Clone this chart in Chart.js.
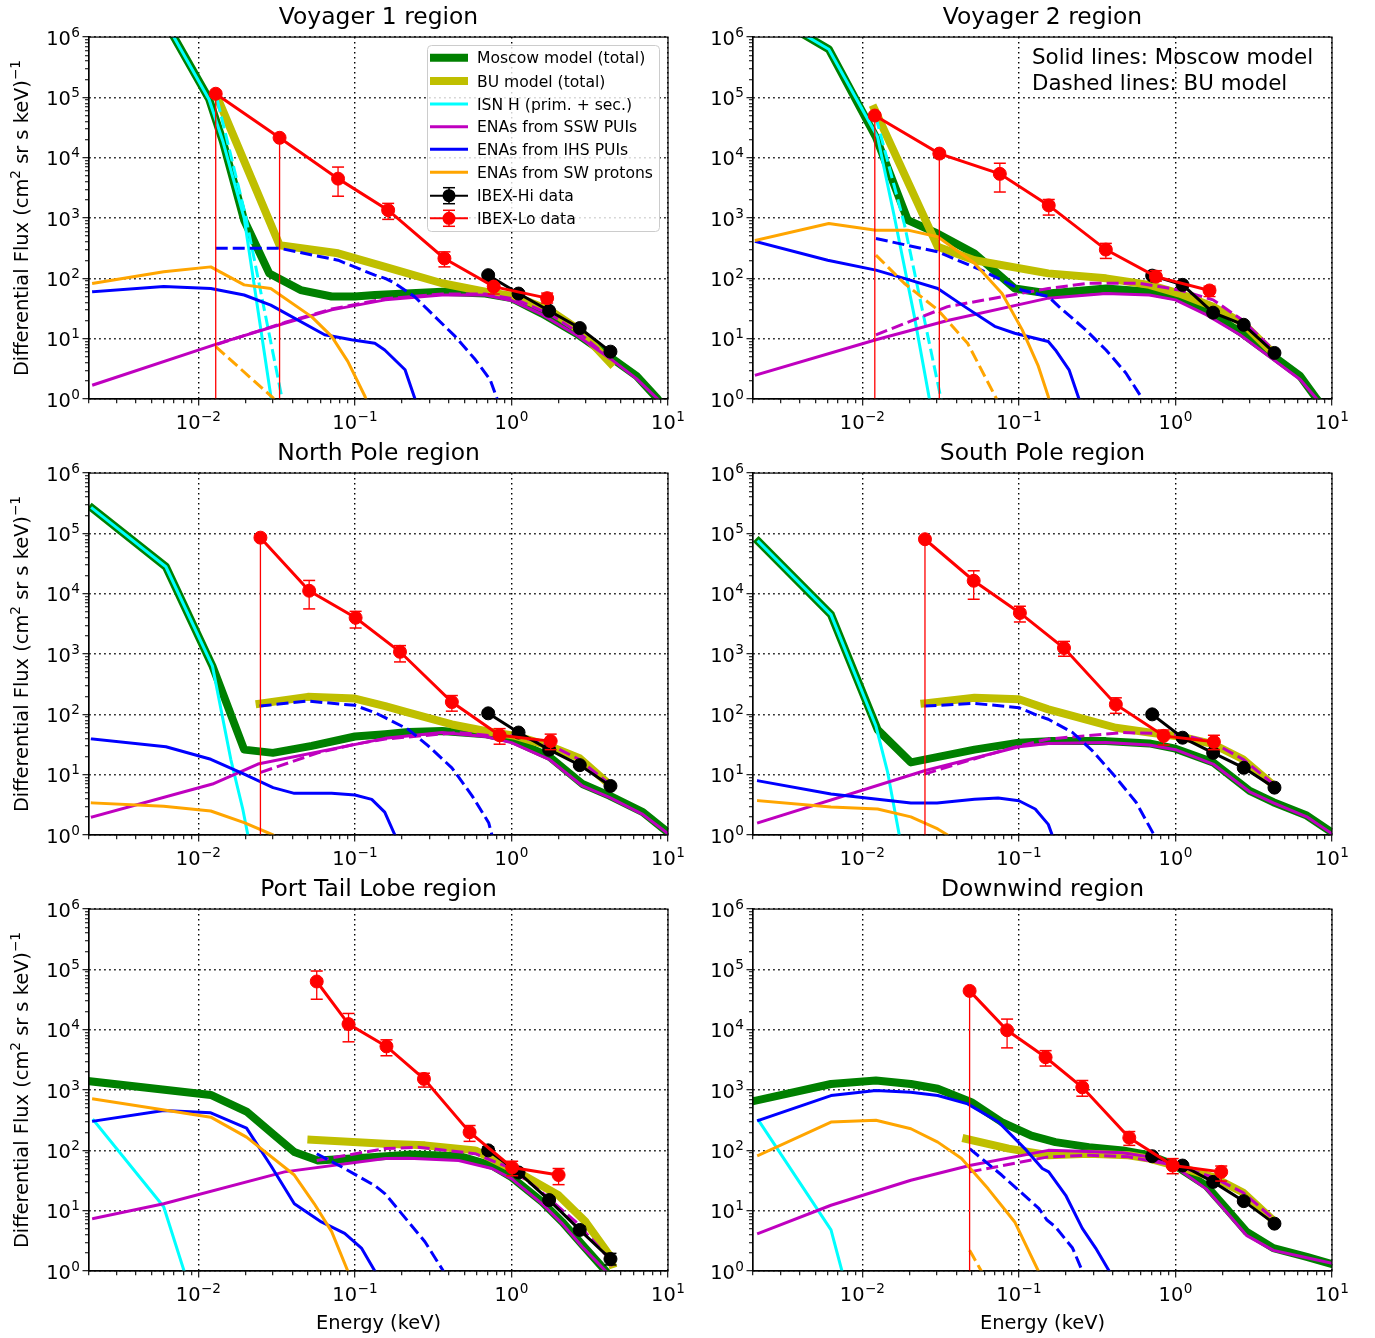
<!DOCTYPE html>
<html>
<head>
<meta charset="utf-8">
<title>ENA spectra: Moscow and BU models vs IBEX data</title>
<script src="https://cdn.jsdelivr.net/npm/chart.js@4.4.1/dist/chart.umd.min.js"></script>
<style>
  body { margin: 0; background: #fff; }
  #page { position: relative; width: 1375px; height: 1338px; overflow: hidden; font-family: "DejaVu Sans", sans-serif; }
  #page canvas { position: absolute; }
  #legend { position: absolute; left: 427px; top: 45px; }
  #note { position: absolute; left: 1032px; top: 44px; font-size: 21.4px; line-height: 26px; color: #000; white-space: nowrap; }
</style>
</head>
<body>
<div id="page">
  <canvas id="p1" width="700" height="436" style="left:0px;top:0px"></canvas>
  <canvas id="p2" width="699" height="436" style="left:676px;top:0px"></canvas>
  <canvas id="p3" width="700" height="436" style="left:0px;top:436px"></canvas>
  <canvas id="p4" width="699" height="436" style="left:676px;top:436px"></canvas>
  <canvas id="p5" width="700" height="466" style="left:0px;top:872px"></canvas>
  <canvas id="p6" width="699" height="466" style="left:676px;top:872px"></canvas>

  <svg id="legend" width="234" height="189" xmlns="http://www.w3.org/2000/svg" font-family="DejaVu Sans, sans-serif" font-size="15.6">
    <rect x="0.5" y="0.5" width="232" height="186" rx="4" ry="4" fill="#fff" fill-opacity="0.8" stroke="#cccccc" stroke-width="1"/>
    <line x1="3" y1="12.7" x2="41" y2="12.7" stroke="#008000" stroke-width="8"/>
    <text x="50" y="18.3">Moscow model (total)</text>
    <line x1="3" y1="36" x2="41" y2="36" stroke="#BFBF00" stroke-width="8"/>
    <text x="50" y="41.6">BU model (total)</text>
    <line x1="3" y1="59" x2="41" y2="59" stroke="#00FFFF" stroke-width="3"/>
    <text x="50" y="64.6">ISN H (prim. + sec.)</text>
    <line x1="3" y1="81.7" x2="41" y2="81.7" stroke="#BF00BF" stroke-width="3"/>
    <text x="50" y="87.3">ENAs from SSW PUIs</text>
    <line x1="3" y1="104.3" x2="41" y2="104.3" stroke="#0000FF" stroke-width="3"/>
    <text x="50" y="109.9">ENAs from IHS PUIs</text>
    <line x1="3" y1="127.3" x2="41" y2="127.3" stroke="#FFA500" stroke-width="3"/>
    <text x="50" y="132.9">ENAs from SW protons</text>
    <line x1="3" y1="150.7" x2="41" y2="150.7" stroke="#000" stroke-width="2"/>
    <line x1="22" y1="142.7" x2="22" y2="158.7" stroke="#000" stroke-width="1.5"/>
    <line x1="16" y1="142.7" x2="28" y2="142.7" stroke="#000" stroke-width="1.5"/>
    <line x1="16" y1="158.7" x2="28" y2="158.7" stroke="#000" stroke-width="1.5"/>
    <circle cx="22" cy="150.7" r="6.5" fill="#000"/>
    <text x="50" y="156.3">IBEX-Hi data</text>
    <line x1="3" y1="173.3" x2="41" y2="173.3" stroke="#FF0000" stroke-width="2"/>
    <line x1="22" y1="165.3" x2="22" y2="181.3" stroke="#FF0000" stroke-width="1.5"/>
    <line x1="16" y1="165.3" x2="28" y2="165.3" stroke="#FF0000" stroke-width="1.5"/>
    <line x1="16" y1="181.3" x2="28" y2="181.3" stroke="#FF0000" stroke-width="1.5"/>
    <circle cx="22" cy="173.3" r="6.5" fill="#FF0000"/>
    <text x="50" y="178.9">IBEX-Lo data</text>
  </svg>
  <div id="note">Solid lines: Moscow model<br>Dashed lines: BU model</div>
</div>

<script>
// ---------- axes ----------
const xRange = [0.002, 10];
const yRange = [1, 1e6];
const xMajor = [0.01, 0.1, 1, 10];
const xTickExp = ['\u22122', '\u22121', '0', '1'];      // labels 10^-2 ... 10^1
const yMajor = [1, 10, 100, 1e3, 1e4, 1e5, 1e6];
const yTickExp = ['0', '1', '2', '3', '4', '5', '6'];    // labels 10^0 ... 10^6
const yTitleParts = [['Differential Flux (cm', false], ['2', true], [' sr s keV)', false], ['\u22121', true]];
const xTitle = 'Energy (keV)';

// IBEX-Hi energy steps (keV), same in every panel
const hiE = [0.71, 1.11, 1.74, 2.73, 4.29];

// ---------- Voyager 1 region ----------
const v1Moscow = [[0.002,5e6],[0.006,2e6],[0.0117,9.4e4],[0.0143,1.9e4],[0.0196,920],[0.0284,120],[0.045,64],[0.071,50],[0.1,50],[0.134,53],[0.36,60],[0.68,56],[1,47],[1.57,26],[2.58,12.3],[4.2,5.1],[6.3,2.4],[8.6,1],[12,0.3]];
const v1BU = [[0.0132,1.0e5],[0.033,355],[0.078,260],[0.156,155],[0.36,83],[0.68,60],[1.06,50],[1.74,30],[2.7,14],[4.3,3.9]];
const v1IsnM = [[0.002,5e6],[0.006,2e6],[0.0117,9.2e4],[0.0143,1.9e4],[0.0196,1000],[0.0292,1],[0.032,0.3]];
const v1IsnB = [[0.0132,9e4],[0.02,1100],[0.0338,1.2],[0.036,0.4]];
const v1SswM = [[0.00214,1.72],[0.0126,7.9],[0.0355,18],[0.071,30],[0.156,44],[0.36,53],[0.68,53],[1,43],[1.57,25],[2.58,11.6],[4.22,4.8],[6.26,2.2],[8.6,1],[12,0.35]];
const v1SswB = [[0.0132,8.1],[0.0355,18.5],[0.071,31],[0.156,46],[0.36,55],[0.68,55],[1.06,45],[1.74,26],[2.7,12.5],[4.3,4.6]];
const v1IhsM = [[0.00214,60],[0.006,73],[0.012,68],[0.0196,53],[0.029,36],[0.064,11.6],[0.095,9.6],[0.134,8.4],[0.155,6.5],[0.209,3.05],[0.242,1],[0.26,0.5]];
const v1IhsB = [[0.0129,315],[0.033,315],[0.078,200],[0.134,113],[0.156,100],[0.18,83],[0.24,50],[0.325,23],[0.437,10.9],[0.587,4.5],[0.73,2.1],[0.81,1],[0.85,0.6]];
const v1SwM = [[0.00214,83],[0.006,129],[0.012,155],[0.0196,78],[0.029,68],[0.053,23],[0.071,10.9],[0.09,4.2],[0.116,1.1],[0.125,0.6]];
const v1SwB = [[0.0129,7.4],[0.03,1.04],[0.032,0.8]];
const v1LoE = [0.0129, 0.033, 0.078, 0.163, 0.373, 0.77, 1.69];
const v1Lo = [1.15e5, 2.14e4, 4500, 1350, 214, 73, 47];
const v1LoUp = [1.25e5, 2.3e4, 7000, 1750, 275, 80, 57];
const v1LoDn = [0.001, 0.001, 2300, 950, 155, 55, 39];
const v1Hi = [113, 56, 29, 15, 6.1];
const v1HiUp = [122, 60, 31, 16, 6.5];
const v1HiDn = [104, 52, 27, 14, 5.7];

// ---------- Voyager 2 region ----------
const v2Moscow = [[0.002,3.4e6],[0.0061,6.3e5],[0.0122,2.2e4],[0.0195,920],[0.0303,550],[0.052,258],[0.094,68],[0.154,56],[0.36,68],[0.68,60],[1,50],[1.57,30],[2.58,13],[4.22,5.1],[6.26,2.4],[8,1],[10,0.5]];
const v2BU = [[0.0119,6.5e4],[0.0303,333],[0.052,200],[0.154,121],[0.36,100],[0.68,78],[1.06,56],[1.74,34],[2.7,18],[4.32,5.4]];
const v2IsnM = [[0.002,3.4e6],[0.0061,6.3e5],[0.0125,2.2e4],[0.016,1050],[0.0215,23],[0.0268,1],[0.029,0.4]];
const v2IsnB = [[0.0122,4.7e4],[0.0185,810],[0.0318,1],[0.034,0.4]];
const v2SswM = [[0.0021,2.5],[0.0122,9.6],[0.035,20],[0.154,47],[0.36,56],[0.68,53],[1,44],[1.57,25],[2.58,11.6],[4.22,4.5],[6.26,2.1],[8,1],[10,0.5]];
const v2SswB = [[0.0122,11.6],[0.035,34],[0.154,68],[0.28,83],[0.587,83],[1.06,64],[1.74,44],[2.7,20],[4.22,6.5]];
const v2IhsM = [[0.0021,405],[0.006,200],[0.0122,137],[0.0185,100],[0.0303,68],[0.045,34],[0.07,16],[0.094,12.3],[0.154,9],[0.171,6.5],[0.209,3.05],[0.242,1],[0.26,0.5]];
const v2IhsB = [[0.0122,457],[0.0303,275],[0.0575,137],[0.104,64],[0.154,50],[0.18,34],[0.267,14],[0.36,6.5],[0.482,2.7],[0.616,1],[0.66,0.6]];
const v2SwM = [[0.0021,430],[0.0061,810],[0.0122,630],[0.0195,630],[0.0303,490],[0.052,178],[0.078,56],[0.105,14],[0.133,3.5],[0.154,1.1],[0.16,0.7]];
const v2SwB = [[0.0122,243],[0.0185,83],[0.0303,30],[0.047,8.4],[0.072,1],[0.076,0.7]];
const v2LoE = [0.012, 0.031, 0.0755, 0.155, 0.359, 0.75, 1.65];
const v2Lo = [5e4, 1.17e4, 5400, 1620, 300, 107, 63];
const v2LoUp = [5.5e4, 1.3e4, 8100, 2030, 380, 134, 74];
const v2LoDn = [0.001, 0.001, 2700, 1120, 214, 90, 50];
const v2Hi = [111, 78, 27, 17, 5.8];
const v2HiUp = [120, 84, 29, 18, 6.2];
const v2HiDn = [102, 72, 25, 16, 5.4];

// ---------- North Pole region ----------
const npMoscow = [[0.0021,2.6e5],[0.0062,2.8e4],[0.0123,630],[0.0196,26],[0.0299,23],[0.053,30],[0.1,43],[0.156,47],[0.22,51],[0.36,53],[0.68,47],[1,38],[1.74,20],[2.84,7],[4.22,4.5],[6.9,2.4],[10,1.1]];
const npBU = [[0.0246,150],[0.05,195],[0.1,183],[0.156,137],[0.22,107],[0.416,68],[0.68,53],[1.06,44],[1.74,30],[2.7,19],[4.32,6.5]];
const npIsnM = [[0.0021,2.6e5],[0.0062,2.8e4],[0.0123,630],[0.0161,18],[0.0192,2.7],[0.0207,1],[0.022,0.5]];
const npIsnB = [];
const npSswM = [[0.0021,2.0],[0.0123,7],[0.024,15],[0.156,40],[0.36,50],[0.68,43],[1,34],[1.74,18],[2.84,6.5],[4.22,4.2],[6.9,2.2],[10,1.05]];
const npSswB = [[0.025,10.9],[0.058,23],[0.1,32],[0.156,39],[0.46,50],[0.75,44],[1.06,44],[1.74,32],[2.7,18],[4.22,7]];
const npIhsM = [[0.0021,39],[0.0062,29],[0.012,18],[0.0196,10.2],[0.03,6.1],[0.041,4.9],[0.071,4.9],[0.1,4.6],[0.128,3.9],[0.155,2.4],[0.18,1],[0.19,0.6]];
const npIhsB = [[0.0246,137],[0.05,166],[0.1,141],[0.134,107],[0.156,88],[0.22,56],[0.294,30],[0.416,13],[0.559,4.5],[0.715,1.6],[0.75,1],[0.78,0.6]];
const npSwM = [[0.0021,3.4],[0.006,3.0],[0.012,2.5],[0.0196,1.6],[0.03,1],[0.033,0.8]];
const npSwB = [];
const npLoE = [0.0249, 0.051, 0.101, 0.194, 0.416, 0.84, 1.78];
const npLo = [8.5e4, 1.12e4, 4000, 1090, 160, 45, 36];
const npLoUp = [9.3e4, 1.66e4, 5100, 1380, 205, 58, 47];
const npLoDn = [0.001, 5600, 2700, 740, 113, 32, 26];
const npHi = [104, 50, 26, 14.4, 6.5];
const npHiUp = [116, 54, 28, 15.5, 7];
const npHiDn = [94, 46, 24, 13.3, 6];

// ---------- South Pole region ----------
const spMoscow = [[0.00217,7.3e4],[0.0063,4500],[0.0125,56],[0.0204,16],[0.052,26],[0.1,34],[0.154,36],[0.36,36],[0.68,33],[1,27],[1.74,16],[2.98,5.4],[4.22,3.5],[6.9,2.1],[10,1.1]];
const spBU = [[0.0249,152],[0.052,188],[0.1,178],[0.154,121],[0.22,94],[0.416,60],[0.68,50],[1.06,43],[1.74,32],[2.7,18],[4.22,6.7]];
const spIsnM = [[0.00217,7.3e4],[0.0063,4500],[0.0122,64],[0.0145,10.9],[0.0172,1],[0.018,0.6]];
const spIsnB = [];
const spSswM = [[0.00217,1.6],[0.0249,11.6],[0.1,29],[0.154,33],[0.36,34],[0.68,31],[1,26],[1.74,15],[2.98,5.2],[4.22,3.4],[6.9,2.0],[10,1.05]];
const spSswB = [[0.0249,10.2],[0.058,20],[0.1,30],[0.154,39],[0.46,50],[1.06,47],[1.74,34],[2.7,18],[4.22,7]];
const spIhsM = [[0.00217,7.9],[0.0063,4.8],[0.0125,3.9],[0.0204,3.4],[0.03,3.4],[0.052,3.9],[0.0736,4.1],[0.1,3.7],[0.127,2.7],[0.154,1.5],[0.163,1],[0.17,0.7]];
const spIhsB = [[0.0249,137],[0.052,152],[0.1,129],[0.134,94],[0.154,83],[0.22,50],[0.294,25],[0.416,9],[0.56,3.5],[0.73,1],[0.76,0.6]];
const spSwM = [[0.00217,3.7],[0.0063,2.9],[0.0125,2.7],[0.0204,2.0],[0.0303,1.26],[0.035,1],[0.037,0.8]];
const spSwB = [];
const spLoE = [0.0251, 0.0514, 0.1014, 0.194, 0.416, 0.84, 1.76];
const spLo = [8e4, 1.64e4, 4800, 1260, 146, 44, 35];
const spLoUp = [8.8e4, 2.4e4, 6200, 1620, 188, 55, 45];
const spLoDn = [0.001, 8100, 3400, 920, 104, 31, 26];
const spHi = [100, 41, 23, 13, 6.1];
const spHiUp = [110, 44, 25, 14, 6.5];
const spHiDn = [91, 38, 21, 12, 5.7];

// ---------- Port Tail Lobe region ----------
const ptMoscow = [[0.00203,1400],[0.012,830],[0.0203,440],[0.0306,178],[0.041,94],[0.058,68],[0.095,73],[0.134,78],[0.22,85],[0.46,81],[0.75,56],[1,36],[1.57,14],[2.11,6.5],[2.84,2.7],[4.0,1],[5,0.5]];
const ptBU = [[0.0527,150],[0.156,129],[0.28,121],[0.587,100],[1,50],[2.0,18],[2.98,6.5],[4.22,1.84],[4.4,1.3]];
const ptIsnM = [[0.00214,315],[0.006,11.6],[0.0081,1],[0.0088,0.5]];
const ptIsnB = [];
const ptSswM = [[0.00214,7.4],[0.006,13],[0.0355,44],[0.156,73],[0.22,74],[0.46,68],[0.75,50],[1,34],[1.57,13],[2.11,6.1],[2.84,2.5],[4.0,1],[5,0.5]];
const ptSswB = [[0.057,68],[0.156,107],[0.254,113],[0.587,88],[1,50],[1.57,20],[2.58,6.5],[4.22,1.6],[4.4,1.2]];
const ptIhsM = [[0.00214,305],[0.006,457],[0.012,420],[0.0203,234],[0.029,56],[0.041,13],[0.061,6.5],[0.086,4.2],[0.11,2.4],[0.134,1],[0.14,0.7]];
const ptIhsB = [[0.057,88],[0.086,50],[0.134,26],[0.156,19],[0.22,6.5],[0.28,3.05],[0.367,1],[0.4,0.6]];
const ptSwM = [[0.00214,710],[0.012,355],[0.0203,166],[0.041,39],[0.055,13],[0.071,4.5],[0.09,1],[0.095,0.7]];
const ptSwB = [];
const ptLoE = [0.057, 0.091, 0.159, 0.276, 0.54, 1.01, 2.0];
const ptLo = [6.3e4, 1.24e4, 5300, 1530, 200, 52, 39];
const ptLoUp = [9.4e4, 1.86e4, 6800, 1900, 258, 66, 50];
const ptLoDn = [3.2e4, 6300, 3700, 1120, 141, 38, 27];
const ptHi = [100, 43, 15, 4.8, 1.58];
const ptHiUp = [115, 47, 17, 5.5, 1.96];
const ptHiDn = [88, 39, 13.5, 4.2, 1.26];

// ---------- Downwind region ----------
const dwMoscow = [[0.00209,670],[0.0063,1260],[0.0122,1440],[0.0204,1260],[0.0303,1050],[0.0497,630],[0.0775,295],[0.12,175],[0.171,137],[0.28,113],[0.46,100],[0.68,83],[1,56],[1.57,26],[2.11,10.9],[2.84,4.5],[4.22,2.4],[6.9,1.72],[10,1.3]];
const dwBU = [[0.0461,155],[0.086,107],[0.154,83],[0.28,88],[0.5,83],[0.68,73],[1.06,53],[1.74,36],[2.7,20],[4.32,6.5]];
const dwIsnM = [[0.00217,315],[0.0063,4.8],[0.0074,1],[0.0078,0.6]];
const dwIsnB = [];
const dwSswM = [[0.00217,4.2],[0.0063,12.3],[0.0204,32],[0.0484,56],[0.154,100],[0.28,96],[0.46,91],[0.68,78],[1,53],[1.57,23],[2.11,9.6],[2.84,3.9],[4.22,2.2],[6.9,1.66],[10,1.34]];
const dwSswB = [[0.0484,44],[0.154,78],[0.28,83],[0.5,78],[1,56],[1.74,36],[2.7,20],[4.32,7]];
const dwIhsM = [[0.00217,315],[0.0063,810],[0.0122,980],[0.0204,920],[0.0303,810],[0.047,590],[0.074,295],[0.109,107],[0.141,50],[0.155,44],[0.199,18],[0.254,5.1],[0.309,2.4],[0.377,1],[0.4,0.6]];
const dwIhsB = [[0.0484,107],[0.0775,39],[0.134,10.9],[0.151,7],[0.171,5.4],[0.22,2.4],[0.254,1],[0.27,0.6]];
const dwSwM = [[0.00217,83],[0.0063,295],[0.0122,315],[0.0204,228],[0.0303,137],[0.043,73],[0.0636,23],[0.094,6.5],[0.133,1],[0.14,0.7]];
const dwSwB = [[0.0484,2.2],[0.0575,1],[0.06,0.8]];
const dwLoE = [0.0484, 0.084, 0.148, 0.254, 0.507, 0.96, 1.96];
const dwLo = [4.4e4, 9800, 3500, 1110, 162, 56, 44];
const dwLoUp = [4.8e4, 1.5e4, 4500, 1440, 205, 73, 55];
const dwLoDn = [0.001, 5000, 2500, 790, 121, 41, 31];
const dwHi = [80, 56, 30, 14.4, 6.1];
const dwHiUp = [88, 60, 32, 15.5, 6.5];
const dwHiDn = [73, 52, 28, 13.3, 5.7];

// ---------- styles ----------
const FONT = '"DejaVu Sans", sans-serif';
const BASE_PX = 19.4, SUP_PX = 13.6, SUP_RAISE = 8;
const GREEN = '#008000', OLIVE = '#BFBF00', CYAN = '#00FFFF', MAGENTA = '#BF00BF',
      BLUE = '#0000FF', ORANGE = '#FFA500', RED = '#FF0000', BLACK = '#000000';

const panels = [
  { id: 'p1', title: 'Voyager 1 region', col: 0, row: 0,
    m: v1Moscow, b: v1BU, isnM: v1IsnM, isnB: v1IsnB, sswM: v1SswM, sswB: v1SswB, ihsM: v1IhsM, ihsB: v1IhsB, swM: v1SwM, swB: v1SwB,
    loE: v1LoE, lo: v1Lo, loUp: v1LoUp, loDn: v1LoDn, hi: v1Hi, hiUp: v1HiUp, hiDn: v1HiDn },
  { id: 'p2', title: 'Voyager 2 region', col: 1, row: 0,
    m: v2Moscow, b: v2BU, isnM: v2IsnM, isnB: v2IsnB, sswM: v2SswM, sswB: v2SswB, ihsM: v2IhsM, ihsB: v2IhsB, swM: v2SwM, swB: v2SwB,
    loE: v2LoE, lo: v2Lo, loUp: v2LoUp, loDn: v2LoDn, hi: v2Hi, hiUp: v2HiUp, hiDn: v2HiDn },
  { id: 'p3', title: 'North Pole region', col: 0, row: 1,
    m: npMoscow, b: npBU, isnM: npIsnM, isnB: npIsnB, sswM: npSswM, sswB: npSswB, ihsM: npIhsM, ihsB: npIhsB, swM: npSwM, swB: npSwB,
    loE: npLoE, lo: npLo, loUp: npLoUp, loDn: npLoDn, hi: npHi, hiUp: npHiUp, hiDn: npHiDn },
  { id: 'p4', title: 'South Pole region', col: 1, row: 1,
    m: spMoscow, b: spBU, isnM: spIsnM, isnB: spIsnB, sswM: spSswM, sswB: spSswB, ihsM: spIhsM, ihsB: spIhsB, swM: spSwM, swB: spSwB,
    loE: spLoE, lo: spLo, loUp: spLoUp, loDn: spLoDn, hi: spHi, hiUp: spHiUp, hiDn: spHiDn },
  { id: 'p5', title: 'Port Tail Lobe region', col: 0, row: 2,
    m: ptMoscow, b: ptBU, isnM: ptIsnM, isnB: ptIsnB, sswM: ptSswM, sswB: ptSswB, ihsM: ptIhsM, ihsB: ptIhsB, swM: ptSwM, swB: ptSwB,
    loE: ptLoE, lo: ptLo, loUp: ptLoUp, loDn: ptLoDn, hi: ptHi, hiUp: ptHiUp, hiDn: ptHiDn },
  { id: 'p6', title: 'Downwind region', col: 1, row: 2,
    m: dwMoscow, b: dwBU, isnM: dwIsnM, isnB: dwIsnB, sswM: dwSswM, sswB: dwSswB, ihsM: dwIhsM, ihsB: dwIhsB, swM: dwSwM, swB: dwSwB,
    loE: dwLoE, lo: dwLo, loUp: dwLoUp, loDn: dwLoDn, hi: dwHi, hiUp: dwHiUp, hiDn: dwHiDn }
];

// tick positions: decades plus 2..9 minor ticks inside the range
function logTickValues(lo, hi) {
  const out = [];
  for (let e = -4; e <= 7; e++) {
    for (let k = 1; k <= 9; k++) {
      const v = +(k * Math.pow(10, e)).toPrecision(6);
      if (v >= lo * 0.9999 && v <= hi * 1.0001) out.push(v);
    }
  }
  return out;
}
function isMajor(v) {
  const l = Math.log10(v);
  return Math.abs(l - Math.round(l)) < 1e-6;
}
const xTicks = logTickValues(xRange[0], xRange[1]);
const yTicks = logTickValues(yRange[0], yRange[1]);

function buildDatasets(p) {
  const ds = [];
  const add = d => { d.order = 1000 - ds.length; d.clip = 0; ds.push(d); };

  function curve(pts, color, w, dashed) {
    if (!pts || !pts.length) return;
    add({
      data: pts.map(q => ({ x: q[0], y: q[1] })),
      borderColor: color, borderWidth: w,
      borderDash: dashed ? [12, 5] : [],
      borderCapStyle: dashed ? 'butt' : 'square',
      borderJoinStyle: 'round',
      pointRadius: 0, fill: false, tension: 0
    });
  }
  function measured(E, f, up, dn, color) {
    E.forEach((e, i) => {
      add({
        data: [{ x: e, y: dn[i] }, { x: e, y: up[i] }],
        borderColor: color, borderWidth: 1.3,
        pointStyle: 'line', pointRadius: 6,
        pointBorderColor: color, pointBorderWidth: 1.5,
        fill: false, tension: 0
      });
    });
    add({
      data: E.map((e, i) => ({ x: e, y: f[i] })),
      borderColor: color, borderWidth: 3,
      pointStyle: 'circle', pointRadius: 6.5,
      pointBackgroundColor: color, pointBorderColor: color, pointBorderWidth: 1,
      fill: false, tension: 0
    });
  }

  curve(p.m, GREEN, 8);
  curve(p.b, OLIVE, 8);
  curve(p.isnM, CYAN, 3);
  curve(p.isnB, CYAN, 3, true);
  curve(p.sswM, MAGENTA, 3);
  curve(p.sswB, MAGENTA, 3, true);
  curve(p.ihsM, BLUE, 3);
  curve(p.ihsB, BLUE, 3, true);
  curve(p.swM, ORANGE, 3);
  curve(p.swB, ORANGE, 3, true);
  measured(hiE, p.hi, p.hiUp, p.hiDn, BLACK);
  measured(p.loE, p.lo, p.loUp, p.loDn, RED);
  return ds;
}

// box around the plot area (matplotlib spines)
const frame = {
  id: 'frame',
  afterDatasetsDraw(chart) {
    const { ctx, chartArea: a } = chart;
    ctx.save();
    ctx.strokeStyle = '#000';
    ctx.lineWidth = 1.2;
    ctx.strokeRect(a.left, a.top, a.right - a.left, a.bottom - a.top);
    ctx.restore();
  }
};

// "10" with a raised exponent, placed from the scale's own pixel positions
function drawPower(ctx, exp, x, baseline, align) {
  ctx.font = BASE_PX + 'px ' + FONT;
  const wb = ctx.measureText('10').width;
  ctx.font = SUP_PX + 'px ' + FONT;
  const we = ctx.measureText(exp).width;
  const total = wb + we + 0.5;
  const x0 = align === 'center' ? x - total / 2 : x - total;
  ctx.font = BASE_PX + 'px ' + FONT;
  ctx.fillText('10', x0, baseline);
  ctx.font = SUP_PX + 'px ' + FONT;
  ctx.fillText(exp, x0 + wb + 0.5, baseline - SUP_RAISE);
}
const powerTicks = {
  id: 'powerTicks',
  afterDraw(chart) {
    const { ctx, scales: { x, y } } = chart;
    ctx.save();
    ctx.fillStyle = '#000';
    ctx.textAlign = 'left';
    ctx.textBaseline = 'alphabetic';
    xMajor.forEach((v, i) => drawPower(ctx, xTickExp[i], x.getPixelForValue(v), x.top + 30, 'center'));
    yMajor.forEach((v, i) => drawPower(ctx, yTickExp[i], y.right - 9, y.getPixelForValue(v) + 7.5, 'right'));
    if (chart.options.showYTitle) {
      // rotated axis label with raised exponents
      const cy = (chart.chartArea.top + chart.chartArea.bottom) / 2;
      let total = 0;
      yTitleParts.forEach(([t, sup]) => { ctx.font = (sup ? SUP_PX : BASE_PX) + 'px ' + FONT; total += ctx.measureText(t).width; });
      ctx.translate(28, cy);
      ctx.rotate(-Math.PI / 2);
      let pos = -total / 2;
      yTitleParts.forEach(([t, sup]) => {
        ctx.font = (sup ? SUP_PX : BASE_PX) + 'px ' + FONT;
        ctx.fillText(t, pos, sup ? -SUP_RAISE : 0);
        pos += ctx.measureText(t).width;
      });
    }
    ctx.restore();
  }
};

function gridOpts(isY) {
  return {
    drawOnChartArea: true,
    color: c => (c.tick && isMajor(c.tick.value)) ? '#000' : 'rgba(0,0,0,0)',
    lineWidth: 1.4,
    tickColor: '#000',
    tickLength: 6.5,
    tickWidth: 1.1,
    // minor ticks: only the part next to the axis is drawn
    tickBorderDash: c => (c.tick && isMajor(c.tick.value)) ? [] : (isY ? [0, 2.5, 4, 30] : [4, 30]),
    tickBorderDashOffset: 0
  };
}

panels.forEach(p => {
  const left = p.col === 0;
  const bottom = p.row === 2;
  const yW = left ? 89 : 77;
  const padR = left ? 32 : 43;
  const xH = bottom ? 67 : 37;

  new Chart(document.getElementById(p.id), {
    type: 'line',
    data: { datasets: buildDatasets(p) },
    options: {
      responsive: false,
      animation: false,
      devicePixelRatio: 1,
      showYTitle: left,
      layout: { padding: { left: 0, right: padR, top: 0, bottom: 0 } },
      plugins: {
        legend: { display: false },
        tooltip: { enabled: false },
        title: {
          display: true, text: p.title, fullSize: false,
          color: '#000', font: { family: FONT, size: 23.4, weight: 'normal' },
          padding: { top: 4, bottom: 5 }
        }
      },
      scales: {
        x: {
          type: 'logarithmic', min: xRange[0], max: xRange[1], bounds: 'data',
          afterBuildTicks: s => { s.ticks = xTicks.map(v => ({ value: v })); },
          afterFit: s => { s.height = xH; },
          ticks: { display: false, autoSkip: false },
          grid: gridOpts(false),
          border: { display: true, color: '#000', width: 1.2, dash: [1.5, 3.5] },
          title: {
            display: bottom, text: xTitle, color: '#000',
            font: { family: FONT, size: BASE_PX }, padding: { top: 0, bottom: 2.5 }
          }
        },
        y: {
          type: 'logarithmic', min: yRange[0], max: yRange[1], bounds: 'data',
          afterBuildTicks: s => { s.ticks = yTicks.map(v => ({ value: v })); },
          afterFit: s => { s.width = yW; },
          ticks: { display: false, autoSkip: false },
          grid: gridOpts(true),
          border: { display: true, color: '#000', width: 1.2, dash: [1.5, 3.5] }
        }
      }
    },
    plugins: [frame, powerTicks]
  });
});
</script>
</body>
</html>
